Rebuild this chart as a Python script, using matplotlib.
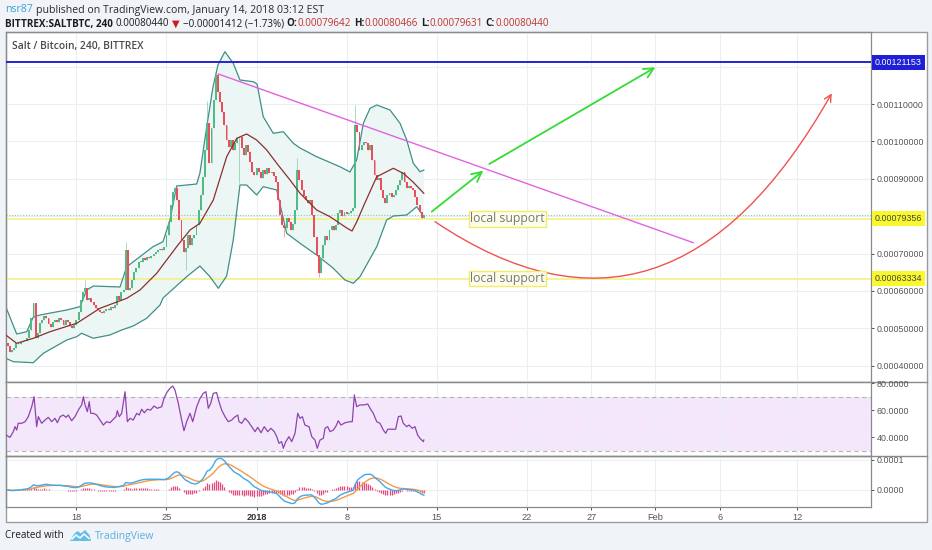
import numpy as np
import matplotlib
matplotlib.use('Agg')
import matplotlib.pyplot as plt
from matplotlib.path import Path
from matplotlib.patches import FancyArrowPatch, Rectangle, Polygon

plt.rcParams['font.family'] = ['Liberation Sans', 'DejaVu Sans']
HEAD = ['Open Sans', 'DejaVu Sans']

# ------------------------------------------------------------------
# SALT/BTC 4h candles, Bittrex, 2017-12-12 16:00 .. 2018-01-14 00:00
# x axis = days from 2017-12-18 00:00, prices kept in satoshi
# ------------------------------------------------------------------
base = np.datetime64('2017-12-18T00:00')
first_bar = np.datetime64('2017-12-12T16:00')
open_first = 46000

close_sat = [
    45290, 43690,                                          # Dec 12
    44220, 44755, 46090, 45825, 46360, 46630,              # Dec 13
    46630, 47430, 49570, 52780, 56790, 47430,              # Dec 14
    48770, 51440, 52240, 53310, 52780, 51170,              # Dec 15
    50370, 51710, 52240, 51710, 52780, 52240,              # Dec 16
    50900, 52240, 51710, 50640, 50100, 50900,              # Dec 17
    52240, 54380, 57590, 59730, 60800, 57590,              # Dec 18
    58120, 57060, 56250, 55450, 54920, 54380,              # Dec 19
    54110, 54650, 55180, 54920, 55720, 55450,              # Dec 20
    56250, 58660, 57590, 59730, 60260, 70960,              # Dec 21
    60260, 60800, 62940, 65080, 66150, 67750,              # Dec 22
    67750, 68820, 68290, 69090, 68820, 69360,              # Dec 23
    69890, 70430, 70960, 71230, 70960, 71760,              # Dec 24
    74970, 78450, 83000, 86470, 87540, 84330,              # Dec 25
    78980, 73630, 70430, 71500, 74970, 72300,              # Dec 26
    74170, 74970, 77650, 81660, 85670, 90480,              # Dec 27
    97700, 104920, 94230, 103580, 111070, 117750,          # Dec 28
    113210, 110530, 107860, 104390, 100370, 98500,         # Dec 29
    100370, 97700, 99570, 100910, 101180, 98230,           # Dec 30
    96360, 99040, 97170, 94490, 91820, 91020,              # Dec 31
    92890, 91820, 90210, 92350, 91280, 92890,              # Jan 1
    91550, 91820, 90750, 89140, 84330, 80320,              # Jan 2
    77650, 76840, 79520, 78450, 76310, 77910,              # Jan 3
    81660, 92350, 89680, 87000, 85400, 84330,              # Jan 4
    83530, 84330, 80320, 74440, 69620, 64810,              # Jan 5
    68820, 72300, 74700, 73630, 76310, 77380,              # Jan 6
    76310, 77650, 80850, 81660, 80050, 81120,              # Jan 7
    80590, 80850, 81390, 82190, 104390, 102510,            # Jan 8
    97700, 99040, 99840, 99570, 97700, 99040,              # Jan 9
    95030, 91020, 89680, 90210, 87000, 84860,              # Jan 10
    83530, 85670, 86200, 85140, 85670, 87000,              # Jan 11
    88340, 89680, 91820, 89140, 87540, 88070,              # Jan 12
    87540, 87000, 85140, 83000, 81120, 79642,              # Jan 13
    80440,                                                 # Jan 14
]
# long wicks that stand out in the chart
hi_idx = [36, 55, 93, 97, 135, 162]
hi_sat = [62940, 73180, 110800, 118290, 95560, 109730]
lo_idx = [83, 108, 129, 145]
lo_sat = [65600, 88880, 74440, 63740]

# Bollinger bands (20, 2) as drawn
bb_up_day = [-5.49, -4.64, -3.86, -3.35, -2.83, -0.75, 0.28, 0.80, 1.31, 3.39, 3.91, 4.94, 5.95,
             6.73, 7.27, 7.79, 9.35, 9.60, 10.13, 10.62, 11.00, 11.54, 12.19, 12.71, 13.75, 14.04,
             14.52, 15.30, 16.08, 16.86, 17.38, 18.67, 20.48, 21.26, 21.78, 22.30, 22.82, 23.34,
             24.37, 25.15, 25.67, 26.18, 26.70, 27.00]
bb_up_sat = [55800, 48500, 49110, 53040, 53580, 54920, 55800, 60260, 61330, 61070, 66490, 69170, 71840,
             73180, 78980, 88070, 88610, 91550, 103930, 114630, 120430, 123990, 120880, 116420, 115960, 115350,
             106600, 102160, 102590, 99490, 98230, 95910, 93230, 91820, 95030, 104840, 108850, 109730,
             108400, 104840, 100370, 94140, 91900, 92350]
bb_lo_day = [-5.49, -4.90, -3.35, -2.57, -0.75, 0.02, 0.41, 1.31, 2.61, 3.52, 4.42, 5.46, 6.50, 6.73,
             8.57, 9.60, 10.38, 11.03, 11.68, 12.19, 12.71, 13.23, 14.01, 14.52, 15.57, 16.34, 17.38,
             18.67, 19.94, 20.87, 21.52, 22.04, 23.34, 24.11, 24.63, 25.67, 26.45, 27.00]
bb_lo_sat = [42000, 41090, 40820, 43340, 46890, 47780, 48690, 47350, 48240, 49570, 50640, 52700, 56250, 58120,
             63820, 66680, 63820, 60720, 64010, 73630, 88340, 88340, 85670, 87890, 87000, 75430, 72750,
             69620, 66150, 62940, 62060, 63820, 71840, 78980, 80050, 80320, 82540, 79860]
bb_mid_day = [-5.49, -4.64, -3.35, -2.05, 0.02, 1.83, 3.91, 4.94, 6.24, 7.79, 8.83, 9.60, 10.64, 11.68,
              12.46, 13.23, 14.01, 14.79, 15.57, 16.60, 17.38, 18.67, 19.71, 21.01, 21.42, 21.78, 22.35,
              23.34, 24.63, 25.40, 26.16, 27.00]
bb_mid_sat = [48230, 46010, 47350, 49110, 51360, 55370, 58040, 60260, 64730, 71840, 76310, 78100, 84330, 95910,
              100830, 101980, 100370, 97700, 94140, 89680, 86120, 81660, 79860, 76840, 76040, 78450, 83000,
              90560, 92810, 91470, 89140, 86120]

# RSI (14) as drawn
rsi_day = [-5.47, -5.16, -4.90, -4.77, -4.64, -4.52, -4.25, -3.99, -3.74, -3.47, -3.29, -3.09, -2.96,
           -2.70, -2.44, -2.18, -1.92, -1.66, -1.48, -1.27, -1.02, -0.81, -0.63, -0.37, -0.11, 0.15,
           0.41, 0.54, 0.67, 0.85, 1.00, 1.11, 1.31, 1.58, 1.83, 2.09, 2.35, 2.61, 2.87, 3.08, 3.18,
           3.33, 3.52, 3.78, 3.96, 4.17, 4.42, 4.69, 4.89, 5.07, 5.28, 5.51, 5.77, 6.03, 6.29, 6.63,
           6.81, 7.02, 7.27, 7.48, 7.66, 7.92, 8.18, 8.36, 8.57, 8.83, 9.04, 9.35, 9.61, 9.86, 10.07,
           10.25, 10.44, 10.64, 10.90, 11.08, 11.29, 11.55, 11.80, 12.07, 12.27, 12.54, 12.64, 12.85,
           13.10, 13.36, 13.62, 13.88, 14.09, 14.35, 14.60, 14.87, 15.12, 15.38, 15.57, 15.74, 15.95,
           16.08, 16.27, 16.52, 16.73, 16.99, 17.20, 17.38, 17.56, 17.76, 18.08, 18.29, 18.54, 18.72,
           18.93, 19.19, 19.32, 19.53, 19.71, 19.96, 20.15, 20.35, 20.56, 20.87, 21.26, 21.44, 21.60,
           21.78, 22.04, 22.37, 22.64, 22.82, 23.07, 23.34, 23.59, 23.85, 24.04, 24.19, 24.50, 24.81,
           25.02, 25.23, 25.40, 25.67, 25.85, 26.10, 26.31, 26.52, 26.70, 26.96, 27.00]
rsi_val = [41.6, 39.9, 44.1, 47.8, 45.3, 50.3, 50.3, 51.5, 55.2, 62.6, 70.0, 47.8, 55.2,
           50.3, 52.7, 54.7, 51.5, 54.0, 50.7, 55.2, 56.4, 54.7, 56.4, 52.2, 55.2, 60.1,
           63.9, 70.0, 63.9, 58.9, 66.3, 57.7, 57.7, 56.4, 52.7, 49.0, 51.5, 50.7, 53.3, 55.2, 59.6,
           55.2, 57.7, 73.7, 51.5, 54.0, 52.7, 57.7, 56.4, 60.7, 58.1, 60.7, 60.1, 63.1, 61.4, 62.6,
           68.8, 73.0, 76.2, 77.9, 75.0, 65.1, 52.7, 44.8, 51.5, 57.7, 51.5, 62.6, 68.8, 72.5, 73.7,
           61.4, 65.1, 72.5, 73.0, 66.3, 60.1, 55.2, 51.5, 52.7, 54.7, 56.4, 51.5, 50.3,
           54.0, 51.5, 47.8, 44.1, 47.3, 43.3, 47.8, 44.1, 46.6, 44.1, 40.4, 35.5, 36.7,
           31.8, 36.7, 40.4, 36.7, 42.9, 57.7, 54.0, 55.2, 49.0, 47.8, 40.4, 37.9, 31.8,
           37.9, 39.2, 46.6, 47.8, 44.1, 45.3, 47.8, 52.2, 49.0, 50.7, 51.5, 51.5, 71.3,
           62.6, 63.9, 63.9, 64.6, 61.4, 57.7, 51.5, 50.3, 45.3, 42.9, 45.9, 45.9, 45.9,
           55.2, 55.7, 50.3, 47.8, 49.0, 46.6, 47.8, 41.6, 39.2, 36.7, 37.9]

# levels and drawings
top_level = 0.00121153
support_levels = [0.00079356, 0.00063334]
trend_day, trend_px = [11.03, 47.94], [0.0011802, 0.0007291]
arrow_from = [(27.61, 0.000812), (32.09, 0.0009396)]
arrow_to = [(31.62, 0.0009216), (44.99, 0.0011981)]
curve_day = [27.87, 46.13, 58.70]
curve_px = [0.0007853, 0.000362, 0.0011286]
label_day = 30.59

tick_dates = ['2017-12-18', '2017-12-25', '2018-01-01', '2018-01-08', '2018-01-15',
              '2018-01-22', '2018-01-27', '2018-02-01', '2018-02-06', '2018-02-12']
tick_labels = ['18', '25', '2018', '8', '15', '22', '27', 'Feb', '6', '12']
price_ticks = [0.0004, 0.0005, 0.0006, 0.0007, 0.0008, 0.0009, 0.0010, 0.0011, 0.0012]

# ------------------------------------------------------------------
close = np.array(close_sat) / 1e8
n = len(close)
day = (first_bar - base) / np.timedelta64(1, 'D') + np.arange(n) / 6
opn = np.r_[open_first / 1e8, close[:-1]]
high = np.maximum(opn, close)
low = np.minimum(opn, close)
high[hi_idx] = np.array(hi_sat) / 1e8
low[lo_idx] = np.array(lo_sat) / 1e8
up = close >= opn

def ema(x, span):
    a = 2.0 / (span + 1)
    out = np.empty_like(x)
    out[0] = x[0]
    for k in range(1, len(x)):
        out[k] = a * x[k] + (1 - a) * out[k - 1]
    return out

macd = ema(close, 12) - ema(close, 26)
signal = ema(macd, 9)
hist = macd - signal

tick_day = [(np.datetime64(t) - base) / np.timedelta64(1, 'D') for t in tick_dates]
xmin, xmax = -5.494, 61.75

W, H = 932, 550
fig = plt.figure(figsize=(W / 100, H / 100), dpi=100, facecolor='#f0f3f7')
bg = fig.add_axes([0, 0, 1, 1])
bg.set_xlim(0, W)
bg.set_ylim(H, 0)
bg.axis('off')
bg.add_patch(Rectangle((5.5, 32), 921.2, 489.7, fc='white', ec='#9c9c9c', lw=1))
for yy in (381.7, 455.7):
    bg.plot([5.5, 926.7], [yy, yy], color='#8a8a8a', lw=1)


def pane(y0, y1):
    a = fig.add_axes([5.7 / W, 1 - y1 / H, (871 - 5.7) / W, (y1 - y0) / H])
    a.set_facecolor('none')
    a.set_xlim(xmin, xmax)
    for s in a.spines.values():
        s.set_color('#8a8a8a')
        s.set_linewidth(0.9)
    a.yaxis.tick_right()
    a.tick_params(axis='y', length=2.5, pad=1.5, labelsize=6.4, colors='#555555', width=0.7)
    a.tick_params(axis='x', length=0, labelbottom=False)
    a.set_xticks(tick_day)
    a.grid(True, color='#eceff2', lw=0.8)
    a.set_axisbelow(True)
    return a


ax = pane(32, 381.7)
ax_rsi = pane(381.7, 455.7)
ax_macd = pane(455.7, 506.7)

# ---- main pane ----
ax.set_ylim(0.00035743, 0.00129253)
ax.set_yticks(price_ticks)
# 0.0008 and 0.0012 sit under the coloured price tags, so they are left blank
ax.set_yticklabels(['' if v in (0.0008, 0.0012) else '%.8f' % v for v in price_ticks])

bu = np.array(bb_up_sat) / 1e8
bl = np.array(bb_lo_sat) / 1e8
bm = np.array(bb_mid_sat) / 1e8
ax.fill(np.r_[bb_up_day, bb_lo_day[::-1]], np.r_[bu, bl[::-1]], color='#ecf6f5', lw=0, zorder=1)
ax.plot(bb_up_day, bu, color='#3f8f88', lw=0.9, zorder=2)
ax.plot(bb_lo_day, bl, color='#3f8f88', lw=0.9, zorder=2)

col = np.where(up, '#53b987', '#eb4d5c')
ax.vlines(day, low, high, colors=col, lw=0.7, alpha=0.5, zorder=3)
ax.bar(day, np.maximum(np.abs(close - opn), 2.5e-6), bottom=np.minimum(opn, close),
       width=0.15, color=col, lw=0, zorder=3)
ax.plot(bb_mid_day, bm, color='#8c2f2f', lw=0.9, zorder=4)

ax.axhline(top_level, color='#2323d6', lw=1.4, zorder=5)
for lv in support_levels:
    ax.axhline(lv, color='#f4f18c', lw=1.3, zorder=1.5)
ax.axhline(close[-1], color='#86c7c0', lw=0.8, ls=(0, (1, 1.5)), zorder=1.6)

ax.plot(trend_day, trend_px, color='#e262e2', lw=1.0, zorder=5)
for a0, a1 in zip(arrow_from, arrow_to):
    ax.annotate('', xy=a1, xytext=a0,
                arrowprops=dict(arrowstyle='->,head_length=0.7,head_width=0.35',
                                color='#35dc35', lw=1.3, shrinkA=0, shrinkB=0), zorder=6)
curve = Path(list(zip(curve_day, curve_px)), [Path.MOVETO, Path.CURVE3, Path.CURVE3])
ax.add_patch(FancyArrowPatch(path=curve, arrowstyle='->,head_length=0.5,head_width=0.25',
                             mutation_scale=10, color='#ef5350', lw=1.0, zorder=6))

for lv in support_levels:
    ax.text(label_day, lv, 'local support', ha='left', va='center', fontsize=8.8,
            color='#737880', family=HEAD, zorder=7,
            bbox=dict(boxstyle='square,pad=0.12', fc='#fdfde8', ec='#f1ec6e', lw=1))


def price_tag(a, y, txt, fc, tc):
    a.annotate(txt, xy=(1, y), xycoords=('axes fraction', 'data'), xytext=(2.7, 0),
               textcoords='offset points', ha='left', va='center', fontsize=6.4, color=tc,
               bbox=dict(boxstyle='square,pad=0.35', fc=fc, ec='none'),
               annotation_clip=False, zorder=10)


price_tag(ax, top_level, '%.8f' % top_level, '#1f1fd8', 'white')
for lv in support_levels:
    price_tag(ax, lv, '%.8f' % lv, '#f8f82c', '#444444')

ax.text(12, 46, 'Salt / Bitcoin, 240, BITTREX', transform=bg.transData, va='center',
        ha='left', fontsize=7.4, color='#4a4a4a', fontweight='semibold', family=HEAD, zorder=8)

# ---- RSI pane ----
ax_rsi.set_ylim(26.3, 81.1)
ax_rsi.set_yticks([40, 60, 80])
ax_rsi.set_yticklabels(['40.0000', '60.0000', '80.0000'])
ax_rsi.axhspan(30, 70, color='#f4e7fc', lw=0, zorder=0.2)
for lv in (30, 70):
    ax_rsi.axhline(lv, color='#b4b4b4', lw=0.8, ls=(0, (4, 3)), zorder=1)
ax_rsi.plot(rsi_day, rsi_val, color='#8e44ad', lw=0.9, zorder=3)

# ---- MACD pane ----
ax_macd.set_ylim(-0.0000557, 0.0001143)
ax_macd.set_yticks([0, 0.0001])
ax_macd.set_yticklabels(['0.0000', '0.0001'])
ax_macd.vlines(day, 0, hist, colors='#e8467f', lw=0.9, zorder=2)
ax_macd.plot(day, signal, color='#f39a4a', lw=1.0, zorder=3)
ax_macd.plot(day, macd, color='#43a8e8', lw=1.0, zorder=3)
ax_macd.set_xticklabels(tick_labels)
ax_macd.tick_params(axis='x', labelbottom=True, length=2.5, width=0.7, direction='out',
                    pad=2, labelsize=6.6, colors='#555555')
for t in ax_macd.get_xticklabels():
    if t.get_text() == '2018':
        t.set_fontweight('bold')
        t.set_color('#333333')

# ---- header / footer ----
def chain(parts, x, y, size):
    prev = None
    for txt, color, weight, gap in parts:
        if prev is None:
            prev = bg.text(x, y, txt, color=color, fontweight=weight, fontsize=size,
                           va='bottom', ha='left', family=HEAD)
        else:
            prev = bg.annotate(txt, xy=(1, 0), xycoords=prev, xytext=(gap, 0),
                               textcoords='offset points', color=color, fontweight=weight,
                               fontsize=size, va='bottom', ha='left', family=HEAD)


dark, red = '#1c1c1c', '#c0342c'
chain([('nsr87', '#3d9fd5', 'normal', 0),
       ('published on TradingView.com, January 14, 2018 03:12 EST', '#2a2a2a', 'normal', 2.2)],
      5, 15.5, 7.6)
chain([('BITTREX:SALTBTC, 240', dark, 'bold', 0),
       ('0.00080440', dark, 'normal', 2.1),
       ('\u25bc', '#c8201e', 'normal', 2.1),
       ('\u22120.00001412 (\u22121.73%)', dark, 'normal', 2.1),
       ('O:', dark, 'bold', 2.1), ('0.00079642', red, 'normal', 0),
       ('H:', dark, 'bold', 2.1), ('0.00080466', red, 'normal', 0),
       ('L:', dark, 'bold', 2.1), ('0.00079631', red, 'normal', 0),
       ('C:', dark, 'bold', 2.1), ('0.00080440', red, 'normal', 0)],
      5, 29.5, 7.15)

bg.text(5, 536, 'Created with', va='center', ha='left', fontsize=7.1, color='#1c1c1c', family=HEAD)
bg.add_patch(Polygon([(70, 541), (74, 534), (77.5, 531), (81, 533.5), (85, 530), (89.5, 535),
                      (91, 541)], closed=True, fc='#63bde6', ec='none'))
bg.plot([72, 76, 80, 84, 89], [539, 535, 538, 534, 538.5], color='white', lw=1.1)
bg.text(95, 536, 'TradingView', va='center', ha='left', fontsize=7.5, color='#58b0e0', family=HEAD)

fig.savefig('out.png', dpi=100, facecolor=fig.get_facecolor())
